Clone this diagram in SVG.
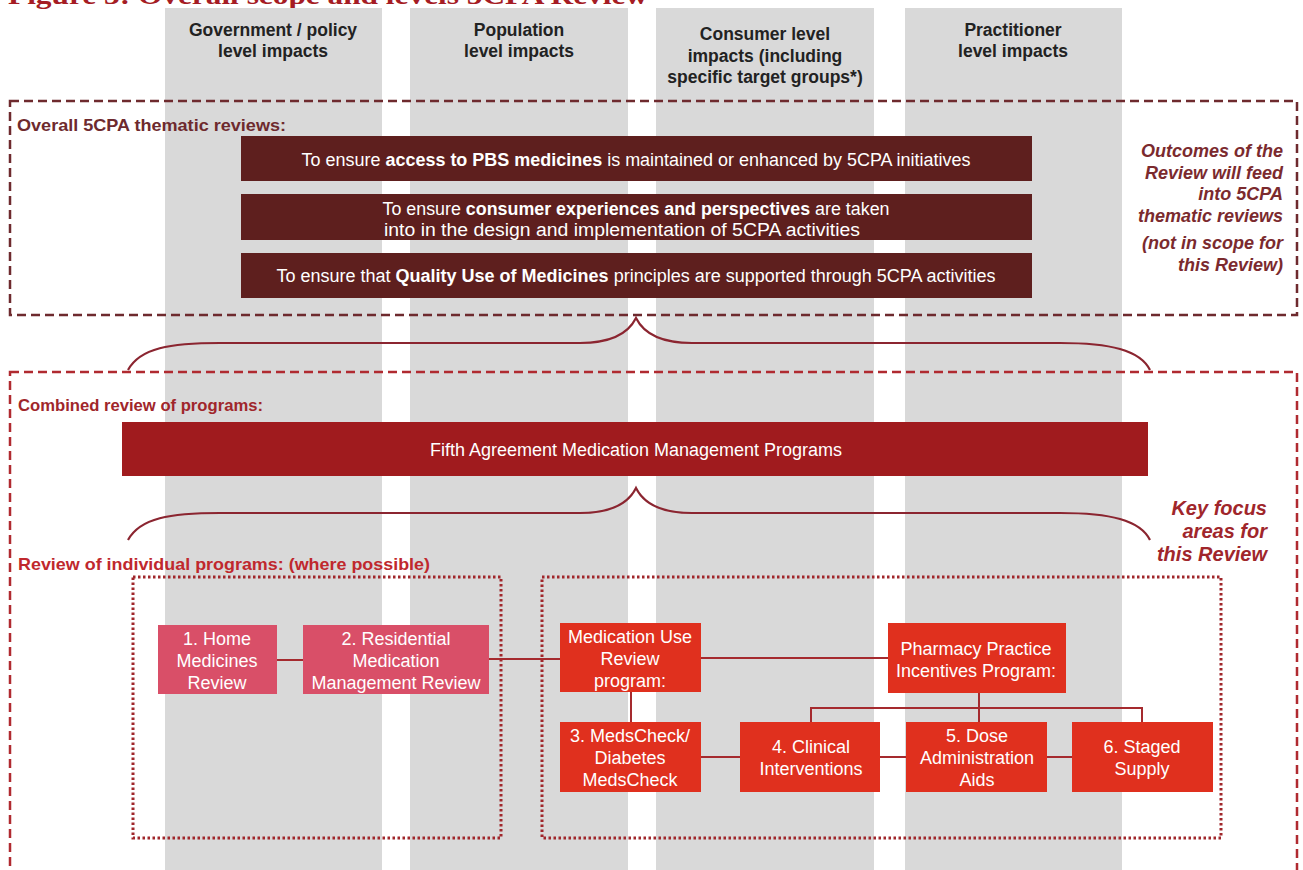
<svg xmlns="http://www.w3.org/2000/svg" width="1303" height="870" viewBox="0 0 1303 870">
<style>
.col{fill:#d9d9d9}
.hdr{font-family:"Liberation Sans",Arial,sans-serif;font-weight:bold;font-size:17.5px;fill:#222;text-anchor:middle}
.sec{font-family:"Liberation Sans",Arial,sans-serif;font-weight:bold;font-size:17px}
.dark{fill:#5e1f1e}
.wt{font-family:"Liberation Sans",Arial,sans-serif;font-size:18px;fill:#fff;text-anchor:middle}
.it{font-family:"Liberation Sans",Arial,sans-serif;font-weight:bold;font-style:italic;text-anchor:end}
.pink{fill:#d94f68}
.red{fill:#e0301e}
.conn{stroke:#a52a2e;stroke-width:2;fill:none}
.brace{stroke:#8b2530;stroke-width:2.2;fill:none}
</style>
<rect width="1303" height="870" fill="#fff"/>
<text x="8" y="4" font-family="'Liberation Serif','Times New Roman',serif" font-weight="bold" font-size="26" fill="#a51c24" textLength="640" lengthAdjust="spacingAndGlyphs">Figure 3: Overall scope and levels 5CPA Review</text>
<g id="columns">
<rect class="col" x="165" y="8" width="217" height="862"/>
<rect class="col" x="410" y="8" width="218" height="862"/>
<rect class="col" x="656" y="8" width="218" height="862"/>
<rect class="col" x="905" y="8" width="217" height="862"/>
<text class="hdr" x="273" y="36">Government / policy</text>
<text class="hdr" x="273" y="57">level impacts</text>
<text class="hdr" x="519" y="36">Population</text>
<text class="hdr" x="519" y="57">level impacts</text>
<text class="hdr" x="765" y="40">Consumer level</text>
<text class="hdr" x="765" y="62">impacts (including</text>
<text class="hdr" x="765" y="83">specific target groups*)</text>
<text class="hdr" x="1013" y="36">Practitioner</text>
<text class="hdr" x="1013" y="57">level impacts</text>
</g>
<g id="thematic">
<rect x="10" y="101" width="1287" height="214" fill="none" stroke="#6e2a2e" stroke-width="2.5" stroke-dasharray="9,5"/>
<text class="sec" x="17" y="131" fill="#6e2a2e" textLength="269" lengthAdjust="spacingAndGlyphs">Overall 5CPA thematic reviews:</text>
<rect class="dark" x="241" y="136" width="791" height="45"/>
<text class="wt" x="636" y="166" textLength="669" lengthAdjust="spacingAndGlyphs">To ensure <tspan font-weight="bold">access to PBS medicines</tspan> is maintained or enhanced by 5CPA initiatives</text>
<rect class="dark" x="241" y="194" width="791" height="46"/>
<text class="wt" x="636" y="215" textLength="507" lengthAdjust="spacingAndGlyphs">To ensure <tspan font-weight="bold">consumer experiences and perspectives</tspan> are taken</text>
<text class="wt" x="622" y="236" textLength="476" lengthAdjust="spacingAndGlyphs">into  in the design and implementation of 5CPA activities</text>
<rect class="dark" x="241" y="253" width="791" height="45"/>
<text class="wt" x="636" y="282" textLength="719" lengthAdjust="spacingAndGlyphs">To ensure that <tspan font-weight="bold">Quality Use of Medicines</tspan> principles are supported through 5CPA activities</text>
<g class="it" font-size="18" fill="#7b2a2e">
<text x="1283" y="157">Outcomes of the</text>
<text x="1283" y="179">Review will feed</text>
<text x="1283" y="200">into 5CPA</text>
<text x="1283" y="222">thematic reviews</text>
<text x="1283" y="249">(not in scope for</text>
<text x="1283" y="271">this Review)</text>
</g>
</g>
<g id="combined">
<rect x="10" y="372" width="1287" height="500" fill="none" stroke="#b02a30" stroke-width="2.5" stroke-dasharray="9,5"/>
<text class="sec" x="18" y="411" fill="#a0262b" textLength="245" lengthAdjust="spacingAndGlyphs">Combined review of programs:</text>
<rect x="122" y="422" width="1026" height="54" fill="#a01b1e"/>
<text class="wt" x="636" y="456">Fifth Agreement Medication Management Programs</text>
<text class="sec" x="18" y="570" fill="#c0282d" textLength="412" lengthAdjust="spacingAndGlyphs">Review of individual programs: (where possible)</text>
<g class="it" font-size="20" fill="#a0262b">
<text x="1267" y="515">Key focus</text>
<text x="1267" y="538">areas for</text>
<text x="1267" y="561">this Review</text>
</g>
<rect x="133" y="577" width="368" height="261" fill="none" stroke="#a0262b" stroke-width="3" stroke-dasharray="2.5,2.5"/>
<rect x="542" y="577" width="679" height="261" fill="none" stroke="#a0262b" stroke-width="3" stroke-dasharray="2.5,2.5"/>
</g>
<g id="braces">
<path class="brace" d="M128,370 C140,348 170,343 220,343 L580,343 C615,343 630,330 636,318 C642,330 657,343 692,343 L1060,343 C1110,343 1140,350 1150,370"/>
<path class="brace" d="M128,540 C140,518 170,513 220,513 L580,513 C615,513 630,500 636,488 C642,500 657,513 692,513 L1060,513 C1110,513 1140,520 1150,540"/>
</g>
<g id="connectors">
<line class="conn" x1="277" y1="660" x2="303" y2="660"/>
<line class="conn" x1="489" y1="659" x2="560" y2="659"/>
<line class="conn" x1="701" y1="658" x2="888" y2="658"/>
<line class="conn" x1="631" y1="692" x2="631" y2="722"/>
<path class="conn" d="M979,693 V722 M811,722 V708 H1142 V722"/>
<line class="conn" x1="701" y1="757" x2="740" y2="757"/>
<line class="conn" x1="880" y1="757" x2="906" y2="757"/>
<line class="conn" x1="1047" y1="757" x2="1072" y2="757"/>
</g>
<g id="n1"><rect class="pink" x="158" y="625" width="119" height="69"/>
<text class="wt" x="217" y="645">1. Home</text><text class="wt" x="217" y="667">Medicines</text><text class="wt" x="217" y="689">Review</text></g>
<g id="n2"><rect class="pink" x="303" y="625" width="186" height="69"/>
<text class="wt" x="396" y="645">2. Residential</text><text class="wt" x="396" y="667">Medication</text><text class="wt" x="396" y="689">Management Review</text></g>
<g id="mur"><rect class="red" x="560" y="623" width="141" height="69"/>
<text class="wt" x="630" y="643">Medication Use</text><text class="wt" x="630" y="665">Review</text><text class="wt" x="630" y="687">program:</text></g>
<g id="ppi"><rect class="red" x="888" y="623" width="178" height="70"/>
<text class="wt" x="976" y="655">Pharmacy Practice</text><text class="wt" x="976" y="677">Incentives Program:</text></g>
<g id="n3"><rect class="red" x="560" y="722" width="141" height="70"/>
<text class="wt" x="630" y="742">3. MedsCheck/</text><text class="wt" x="630" y="764">Diabetes</text><text class="wt" x="630" y="786">MedsCheck</text></g>
<g id="n4"><rect class="red" x="740" y="722" width="140" height="70"/>
<text class="wt" x="811" y="753">4. Clinical</text><text class="wt" x="811" y="775">Interventions</text></g>
<g id="n5"><rect class="red" x="906" y="722" width="141" height="70"/>
<text class="wt" x="977" y="742">5. Dose</text><text class="wt" x="977" y="764">Administration</text><text class="wt" x="977" y="786">Aids</text></g>
<g id="n6"><rect class="red" x="1072" y="722" width="141" height="70"/>
<text class="wt" x="1142" y="753">6. Staged</text><text class="wt" x="1142" y="775">Supply</text></g>
</svg>
